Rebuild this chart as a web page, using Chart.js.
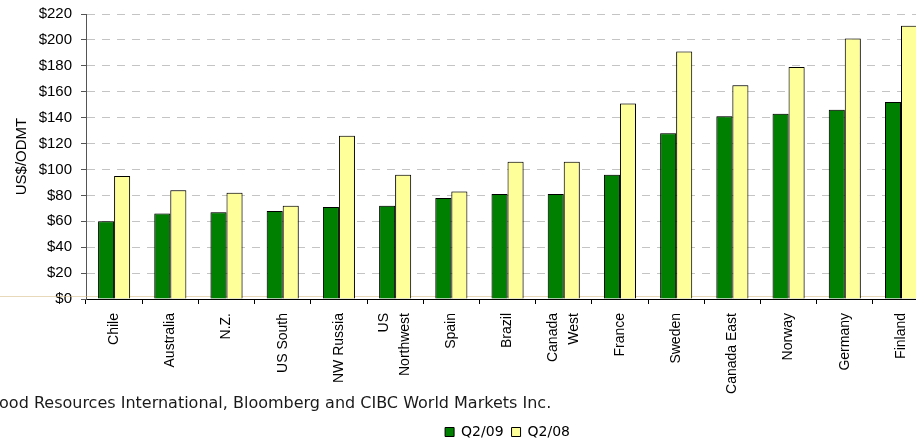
<!DOCTYPE html>
<html>
<head>
<meta charset="utf-8">
<script src="https://cdn.jsdelivr.net/npm/chart.js@4.4.0/dist/chart.umd.min.js"></script>
<style>
  html, body { margin: 0; padding: 0; width: 916px; height: 440px; overflow: hidden; background: #fff; }
  #costChart { display: block; }
</style>
</head>
<body>
<canvas id="costChart" width="931" height="449"></canvas>
<script>
// delivered fibre cost by region, US$ per oven-dry metric tonne
const regions = ['Chile', 'Australia', 'N.Z.', 'US South', 'NW Russia', ['US', 'Northwest'], 'Spain',
  'Brazil', ['Canada', 'West'], 'France', 'Sweden', 'Canada East', 'Norway', 'Germany', 'Finland'];
const q209 = [60, 66, 67, 68, 71, 72, 78, 81, 81, 96, 128, 141, 143, 146, 152];
const q208 = [95, 84, 82, 72, 126, 96, 83, 106, 106, 151, 191, 165, 179, 201, 211];
const yTicks = [0, 20, 40, 60, 80, 100, 120, 140, 160, 180, 200, 220];
const sourceNote = 'Source: Wood Resources International, Bloomberg and CIBC World Markets Inc.';

Chart.defaults.font.family = "'Liberation Sans', Arial, sans-serif";
Chart.defaults.color = '#000';

// faint rule just above the zero line
const zeroRule = {
  id: 'zeroRule',
  beforeDatasetsDraw(chart) {
    const { ctx, chartArea, scales } = chart;
    const y = Math.round(scales.y.getPixelForValue(0)) - 2.5;
    ctx.save();
    ctx.strokeStyle = 'rgba(214, 186, 130, 0.55)';
    ctx.lineWidth = 1;
    ctx.beginPath();
    ctx.moveTo(0, y);
    ctx.lineTo(chartArea.right, y);
    ctx.stroke();
    ctx.restore();
  }
};

// soft halo round the columns
const barShadow = {
  id: 'barShadow',
  beforeDatasetsDraw(chart) {
    const ctx = chart.ctx;
    ctx.save();
    ctx.shadowColor = 'rgba(0, 0, 0, 0.35)';
    ctx.shadowBlur = 2;
  },
  afterDatasetsDraw(chart) {
    chart.ctx.restore();
  }
};

// two-line category names: centre the pair of lines on the tick
const centerWrapped = {
  id: 'centerWrapped',
  afterLayout(chart) {
    const xs = chart.scales.x;
    xs.getLabelItems().forEach(item => {
      if (Array.isArray(item.label) && item.options && item.options.translation) {
        item.options.translation[0] -= (item.label.length - 1) * item.font.lineHeight / 2;
      }
    });
  }
};

// source line under the category labels
const sourceLine = {
  id: 'sourceLine',
  afterDraw(chart) {
    const ctx = chart.ctx;
    ctx.save();
    ctx.font = "16px 'DejaVu Sans', Verdana, sans-serif";
    ctx.fillStyle = '#1a1a1a';
    ctx.textBaseline = 'alphabetic';
    const lead = ctx.measureText('Source: W').width;
    ctx.fillText(sourceNote, -lead, 408);
    ctx.restore();
  }
};

const ctx = document.getElementById('costChart').getContext('2d');

const costChart = new Chart(ctx, {
  type: 'bar',
  data: {
    labels: regions,
    datasets: [{
      label: 'Q2/09',
      data: q209,
      backgroundColor: '#008000',
      borderColor: '#000',
      borderWidth: 1,
      categoryPercentage: 0.57,
      barPercentage: 1.0
    }, {
      label: 'Q2/08',
      data: q208,
      backgroundColor: '#ffff99',
      borderColor: '#000',
      borderWidth: 1,
      categoryPercentage: 0.57,
      barPercentage: 1.0
    }]
  },
  options: {
    responsive: false,
    maintainAspectRatio: false,
    animation: false,
    layout: { padding: { top: 14, right: 0, bottom: 0, left: 0 } },
    plugins: {
      tooltip: { enabled: false },
      legend: {
        position: 'bottom',
        fullSize: false,
        labels: {
          boxWidth: 9,
          boxHeight: 9,
          padding: 8,
          color: '#000',
          font: { family: "'DejaVu Sans', Verdana, sans-serif", size: 14 }
        }
      }
    },
    scales: {
      x: {
        afterFit: s => { s.height = 118; },
        ticks: {
          autoSkip: false,
          minRotation: 90,
          maxRotation: 90,
          padding: 9,
          color: '#000',
          font: { size: 14, lineHeight: 1.5 }
        },
        grid: { offset: true, drawOnChartArea: false, tickLength: 5, tickColor: '#000' },
        border: { color: '#000' }
      },
      y: {
        min: 0,
        max: 220,
        afterFit: s => { s.width = 86; },
        afterBuildTicks: s => { s.ticks = yTicks.map(v => ({ value: v })); },
        ticks: {
          padding: 9,
          color: '#000',
          font: { size: 15, lineHeight: 0.6 },
          callback: v => '$' + v
        },
        grid: { color: '#c4c4c4', tickColor: '#555', tickLength: 5 },
        border: { color: '#555', dash: [8, 7] },
        title: {
          display: true,
          text: 'US$/ODMT',
          color: '#000',
          font: { size: 15 },
          padding: { top: 13, bottom: 0 }
        }
      }
    }
  },
  plugins: [zeroRule, barShadow, centerWrapped, sourceLine]
});
</script>
</body>
</html>
